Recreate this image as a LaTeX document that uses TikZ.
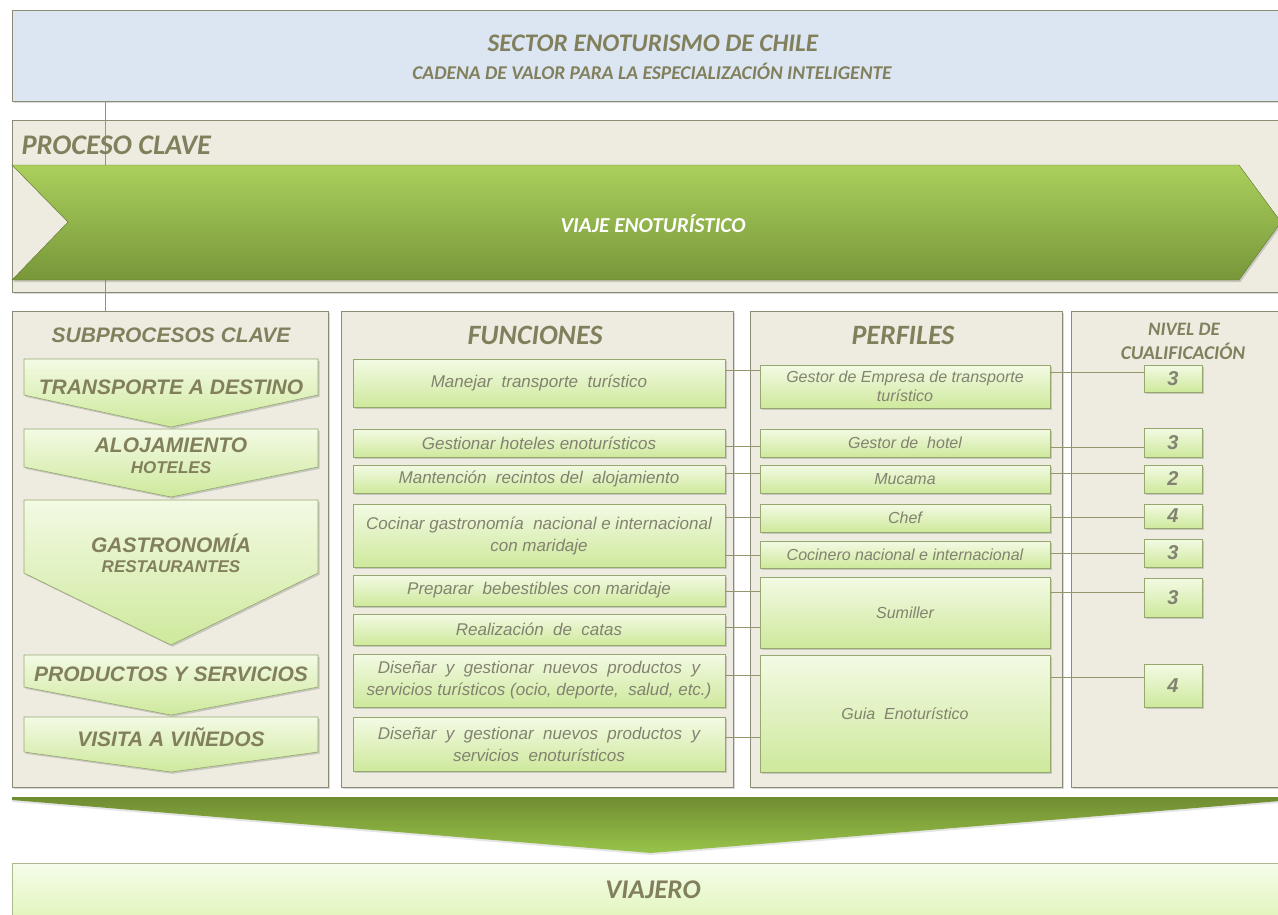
\documentclass[tikz,border=0pt]{standalone}
\usepackage{fontspec}
\setmainfont{Liberation Sans}
\newfontfamily\calib{Carlito}
\usetikzlibrary{shadows}

\definecolor{bord}{RGB}{140,140,118}
\definecolor{skyfill}{RGB}{220,230,242}
\definecolor{beige}{RGB}{238,236,225}
\definecolor{hdr}{RGB}{130,128,92}
\definecolor{txtc}{RGB}{130,130,112}
\definecolor{greentop}{RGB}{170,208,92}
\definecolor{greenbot}{RGB}{120,150,58}
\definecolor{lgtop}{RGB}{243,250,228}
\definecolor{lgbot}{RGB}{206,233,156}
\definecolor{lgbord}{RGB}{150,168,110}
\definecolor{linecol}{RGB}{150,150,108}
\definecolor{dgtop}{RGB}{112,140,50}
\definecolor{dgbot}{RGB}{152,196,74}
\definecolor{vtop}{RGB}{245,252,234}
\definecolor{vbot}{RGB}{220,244,176}

\tikzset{
  panel/.style={draw=bord, fill=beige, line width=0.8pt, inner sep=0pt,
    drop shadow={shadow xshift=1.5pt, shadow yshift=-1.5pt, opacity=0.3}},
  lgbox/.style={draw=lgbord, line width=0.6pt, top color=lgtop, bottom color=lgbot,
    drop shadow={shadow xshift=1.5pt, shadow yshift=-1.8pt, opacity=0.35},
    inner sep=1pt, align=center, text=txtc},
  fbox/.style={lgbox, minimum width=372pt, font=\itshape\fontsize{17}{22}\selectfont},
  pbox/.style={lgbox, minimum width=290pt, font=\itshape\fontsize{16}{19}\selectfont},
  nbox/.style={lgbox, minimum width=58pt, font=\bfseries\itshape\fontsize{20}{22}\selectfont},
  subshape/.style={draw=lgbord, line width=0.6pt, top color=lgtop, bottom color=lgbot,
    drop shadow={shadow xshift=1.5pt, shadow yshift=-1.8pt, opacity=0.35}},
  sublabel/.style={font=\bfseries\itshape\fontsize{21}{23}\selectfont, text=hdr},
  subsmall/.style={font=\bfseries\itshape\fontsize{17}{19}\selectfont, text=hdr},
  calhdr/.style={font=\calib\bfseries\itshape\fontsize{28}{30}\selectfont, text=hdr},
  connector/.style={draw=linecol, line width=0.7pt},
}

\begin{document}
\begin{tikzpicture}[x=1pt,y=-1pt]
\useasboundingbox (0,0) rectangle (1278,914);
\clip (0,0) rectangle (1278,914);
\fill[white] (0,0) rectangle (1278,914);

% top panels
\node[panel, fill=skyfill, anchor=north west, minimum width=1290pt, minimum height=91pt] (sector) at (12,10) {};
\node[font=\calib\bfseries\itshape\fontsize{25.3}{27}\selectfont, text=hdr] (title) at (653,43) {SECTOR ENOTURISMO DE CHILE};
\node[font=\calib\bfseries\itshape\fontsize{19.5}{21}\selectfont, text=hdr] (subtitle) at (652,71) {CADENA DE VALOR PARA LA ESPECIALIZACIÓN INTELIGENTE};

\node[panel, anchor=north west, minimum width=1290pt, minimum height=172pt] (proceso) at (12,120) {};

% lower panels
\node[panel, anchor=north west, minimum width=316pt, minimum height=476pt] (sub) at (12,311) {};
\node[panel, anchor=north west, minimum width=392pt, minimum height=476pt] (fun) at (341,311) {};
\node[panel, anchor=north west, minimum width=312pt, minimum height=476pt] (per) at (750,311) {};
\node[panel, anchor=north west, minimum width=230pt, minimum height=476pt] (niv) at (1071,311) {};

% vertical link line
\draw[connector] (sector.south -| 105,0) -- (sub.north -| 105,0);

\node[font=\calib\bfseries\itshape\fontsize{28.4}{30}\selectfont, text=hdr, anchor=west] (proclave) at (18,145) {PROCESO CLAVE};

% green process arrow
\path[top color=greentop, bottom color=greenbot, draw=greenbot!80!black, line width=0.4pt,
  drop shadow={shadow xshift=1.5pt, shadow yshift=-2pt, opacity=0.35}]
  (12,165) -- (1239,165) -- (1281,222) -- (1239,280) -- (12,280) -- (68,222) -- cycle;
\node[font=\calib\bfseries\itshape\fontsize{21.3}{23}\selectfont, text=white] (viaje) at (653,224) {VIAJE ENOTURÍSTICO};

% headers
\node[font=\bfseries\itshape\fontsize{21}{23}\selectfont, text=hdr] (hsub) at (171,335) {SUBPROCESOS CLAVE};
\node[calhdr] (hfun) at (535,335) {FUNCIONES};
\node[calhdr] (hper) at (903,335) {PERFILES};
\node[font=\calib\bfseries\itshape\fontsize{19}{21}\selectfont, text=hdr] (hniv1) at (1184,329) {NIVEL DE};
\node[font=\calib\bfseries\itshape\fontsize{19.5}{21}\selectfont, text=hdr] (hniv2) at (1183,351) {CUALIFICACIÓN};

% subprocess chevrons
\path[subshape] (24,359) -- (318,359) -- (318,395) -- (171,427) -- (24,395) -- cycle;
\path[subshape] (24,429) -- (318,429) -- (318,467) -- (171,497) -- (24,467) -- cycle;
\path[subshape] (24,500) -- (318,500) -- (318,573) -- (171,645) -- (24,573) -- cycle;
\path[subshape] (24,655) -- (318,655) -- (318,687) -- (171,715) -- (24,687) -- cycle;
\path[subshape] (24,717) -- (318,717) -- (318,752) -- (171,772) -- (24,752) -- cycle;
\node[sublabel] (s1) at (171,387) {TRANSPORTE A DESTINO};
\node[sublabel] (s2) at (171,445) {ALOJAMIENTO};
\node[subsmall] (s2b) at (171,468) {HOTELES};
\node[sublabel] (s3) at (171,543) {GASTRONOMÍA};
\node[subsmall] (s3b) at (171,567) {RESTAURANTES};
\node[sublabel] (s4) at (171,674) {PRODUCTOS Y SERVICIOS};
\node[sublabel] (s5) at (171,737) {VISITA A VIÑEDOS};

% function boxes
\node[fbox, minimum height=48pt] (f1) at (539,383) {Manejar\ \ transporte\ \ turístico};
\node[fbox, minimum height=28pt] (f2) at (539,443) {Gestionar hoteles enoturísticos};
\node[fbox, minimum height=28pt] (f3) at (539,479) {Mantención\ \ recintos del\ \ alojamiento};
\node[fbox, minimum height=63pt] (f4) at (539,535.5) {Cocinar gastronomía\ \ nacional e internacional\\con maridaje};
\node[fbox, minimum height=31pt] (f5) at (539,590.5) {Preparar\ \ bebestibles con maridaje};
\node[fbox, minimum height=31pt] (f6) at (539,629.5) {Realización\ \ de\ \ catas};
\node[fbox, minimum height=53pt] (f7) at (539,680.5) {Diseñar\ \ y\ \ gestionar\ \ nuevos\ \ productos\ \ y\\servicios turísticos (ocio, deporte,\ \ salud, etc.)};
\node[fbox, minimum height=54pt] (f8) at (539,744) {Diseñar\ \ y\ \ gestionar\ \ nuevos\ \ productos\ \ y\\servicios\ \ enoturísticos};

% profile boxes
\node[pbox, minimum height=43pt] (p1) at (905,386.5) {Gestor de Empresa de transporte\\turístico};
\node[pbox, minimum height=28pt] (p2) at (905,443) {Gestor de\ \ hotel};
\node[pbox, minimum height=28pt] (p3) at (905,479) {Mucama};
\node[pbox, minimum height=28pt] (p4) at (905,518) {Chef};
\node[pbox, minimum height=27pt] (p5) at (905,554.5) {Cocinero nacional e internacional};
\node[pbox, minimum height=71pt] (p6) at (905,612.5) {Sumiller};
\node[pbox, minimum height=117pt] (p7) at (905,713.5) {Guia\ \ Enoturístico};

% level boxes
\node[nbox, minimum height=27pt] (n1) at (1173,378.5) {3};
\node[nbox, minimum height=29pt] (n2) at (1173,442.5) {3};
\node[nbox, minimum height=28pt] (n3) at (1173,479) {2};
\node[nbox, minimum height=24pt] (n4) at (1173,516) {4};
\node[nbox, minimum height=28pt] (n5) at (1173,553) {3};
\node[nbox, minimum height=39pt] (n6) at (1173,597.5) {3};
\node[nbox, minimum height=43pt] (n7) at (1173,685.5) {4};

% connectors between columns
\foreach \a/\b/\yy in {f1/p1/370, f2/p2/446, f3/p3/473, f4/p4/517, f4/p5/555, f5/p6/591, f6/p6/627, f7/p7/675, f8/p7/737}
  \draw[connector] (\a.east |- 0,\yy) -- (\b.west |- 0,\yy);
\foreach \a/\b/\yy in {p1/n1/372, p2/n2/447, p3/n3/473, p4/n4/517, p5/n5/553, p6/n6/592, p7/n7/677}
  \draw[connector] (\a.east |- 0,\yy) -- (\b.west |- 0,\yy);

% bottom arrow
\path[top color=dgtop, bottom color=dgbot,
  drop shadow={shadow xshift=0pt, shadow yshift=-2pt, opacity=0.2}]
  (12,797) -- (1292,797) -- (1292,800) -- (651,853) -- (12,800) -- cycle;

% viajero
\node[draw=lgbord!80!white, line width=0.8pt, top color=vtop, bottom color=vbot,
  anchor=north west, minimum width=1290pt, minimum height=70pt] (viajerobox) at (12,863) {};
\node[font=\calib\bfseries\itshape\fontsize{27}{29}\selectfont, text=hdr] (viajero) at (653,890) {VIAJERO};
\end{tikzpicture}
\end{document}
